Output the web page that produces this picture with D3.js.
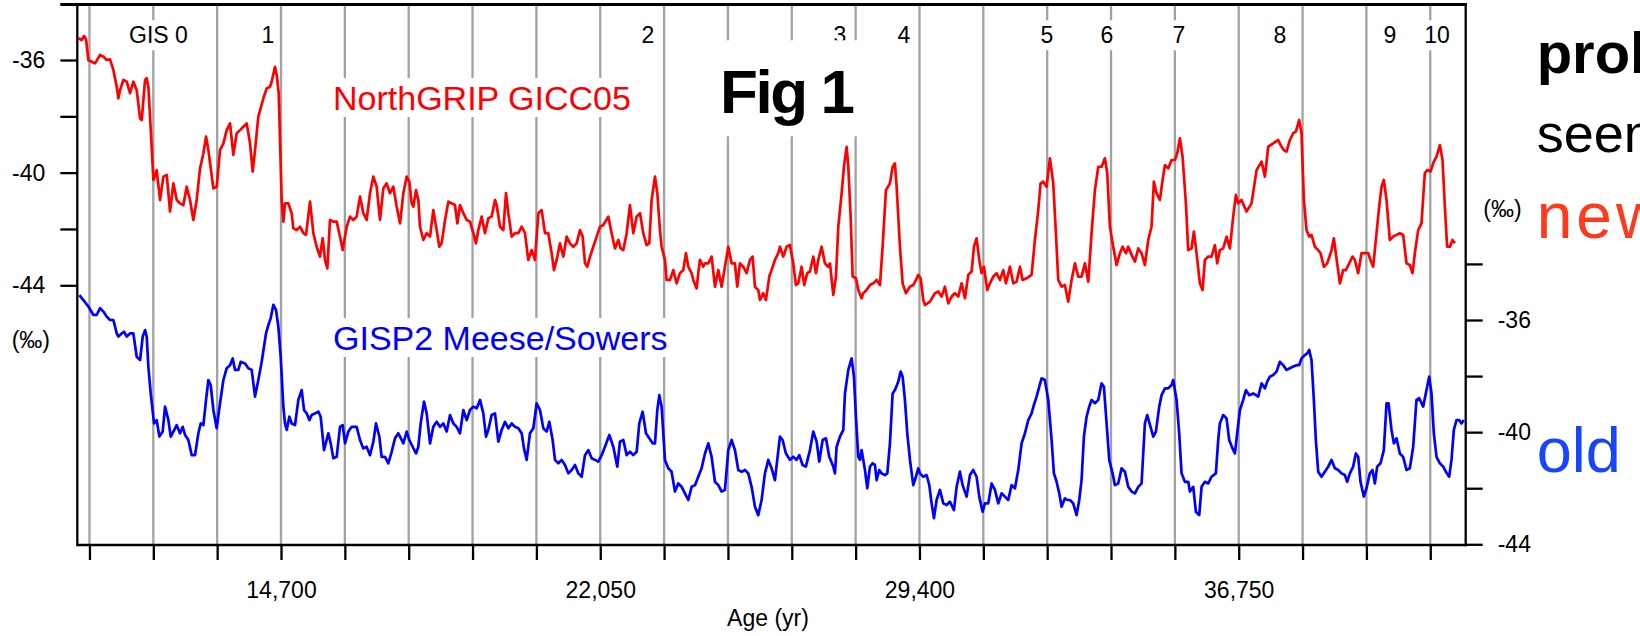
<!DOCTYPE html>
<html><head><meta charset="utf-8">
<script src="https://cdn.jsdelivr.net/npm/d3@7"></script>
<style>
body{margin:0;background:#fff;overflow:hidden}
svg{display:block}
text{font-family:"Liberation Sans",Arial,Helvetica,sans-serif}
</style>
</head><body>
<svg id="c" width="1640" height="636"></svg>
<script>
// ---------- DATA ----------
const xTickValues = [10290,11760,13230,14700,16170,17640,19110,20580,22050,23520,24990,26460,27930,29400,30870,32340,33810,35280,36750,38220,39690,41160];
const xTickLabels = [14700,22050,29400,36750];
const leftTickValues = [-36,-38,-40,-42,-44];
const leftTickLabels = [-36,-40,-44];
const rightTickValues = [-34,-36,-38,-40,-42,-44];
const rightTickLabels = [-36,-40,-44];
const gisNames = ["GIS 0","1","2","3","4","5","6","7","8","9","10"];
const gisAges  = [11879,14400,23149,27570,29043,32335,33716,35374,37700,40232,41314];

// NorthGRIP GICC05 d18O (age yr, permil)
const northgrip = [
[10035,-35.23],[10112,-35.29],[10166,-35.15],[10212,-35.27],[10265,-36.0],[10342,-36.06],[10419,-36.12],[10534,-35.82],[10611,-35.88],[10687,-36.0],[10764,-35.98],[10841,-36.36],[10918,-36.95],[10956,-37.36],[10994,-37.07],[11071,-36.71],[11148,-36.77],[11224,-37.18],[11301,-36.77],[11378,-37.07],[11455,-38.07],[11493,-38.13],[11570,-36.71],[11608,-36.65],[11646,-36.95],[11685,-38.01],[11762,-40.26],[11838,-39.91],[11915,-40.97],[11992,-40.14],[12069,-40.08],[12145,-41.38],[12222,-40.38],[12299,-40.97],[12375,-41.09],[12452,-41.15],[12529,-40.5],[12606,-40.97],[12682,-41.68],[12759,-40.97],[12836,-39.85],[12913,-39.31],[12974,-38.72],[13028,-39.2],[13143,-40.56],[13219,-40.5],[13296,-39.2],[13373,-38.96],[13450,-38.49],[13526,-38.25],[13603,-39.37],[13680,-38.6],[13757,-38.49],[13833,-38.37],[13910,-38.25],[13987,-38.96],[14048,-39.96],[14102,-39.2],[14178,-38.01],[14294,-37.36],[14370,-37.01],[14447,-36.95],[14485,-36.77],[14562,-36.24],[14601,-36.53],[14647,-37.18],[14716,-40.97],[14754,-41.74],[14792,-41.09],[14869,-41.09],[14946,-41.44],[14984,-41.98],[15061,-42.04],[15138,-41.92],[15214,-42.15],[15276,-42.21],[15368,-41.03],[15445,-42.15],[15521,-42.63],[15598,-42.98],[15659,-42.33],[15713,-43.1],[15767,-43.4],[15828,-41.68],[15905,-41.74],[15982,-41.74],[16058,-42.27],[16120,-42.75],[16212,-41.92],[16289,-41.56],[16365,-41.68],[16442,-41.56],[16519,-40.85],[16596,-41.44],[16672,-41.68],[16749,-40.73],[16826,-40.14],[16902,-40.5],[16979,-41.68],[17056,-40.56],[17133,-40.38],[17209,-40.73],[17286,-40.5],[17363,-41.21],
[17440,-41.80],[17517,-40.73],[17593,-40.14],[17655,-40.32],[17709,-41.09],[17747,-41.21],[17808,-40.62],[17862,-40.97],[17900,-41.92],[17977,-42.39],[18054,-42.15],[18131,-42.27],[18207,-41.33],[18284,-42.04],[18345,-42.63],[18399,-42.51],[18476,-41.68],[18553,-41.03],[18629,-41.09],[18706,-41.15],[18760,-41.80],[18821,-41.15],[18898,-41.44],[18975,-41.68],[19051,-41.74],[19128,-42.15],[19189,-42.51],[19243,-42.04],[19320,-41.56],[19397,-42.15],[19473,-41.62],[19550,-41.56],[19627,-40.97],[19665,-41.15],[19742,-41.92],[19819,-42.04],[19880,-40.73],[19934,-41.44],[20011,-42.27],[20087,-42.15],[20164,-42.15],[20241,-41.92],[20317,-42.15],[20394,-43.10],[20471,-42.75],[20548,-43.10],[20624,-41.44],[20701,-41.33],[20778,-42.15],[20854,-42.15],[20931,-42.86],[20985,-43.46],[21046,-43.10],[21123,-42.51],[21200,-42.98],[21277,-42.27],[21353,-42.51],[21430,-42.63],[21507,-42.51],[21583,-42.04],[21645,-42.27],[21699,-43.22],[21752,-43.34],[21814,-42.98],[21890,-42.63],[21967,-42.27],[22044,-41.92],[22121,-41.86],[22236,-41.56],[22312,-42.15],[22389,-42.69],[22466,-42.39],[22520,-42.69],[22581,-42.75],[22658,-42.15],[22734,-41.15],[22811,-42.15],[22888,-41.56],[22965,-41.44],[23041,-42.15],[23118,-42.57],[23179,-42.51],[23233,-40.97],[23310,-40.14],[23364,-40.73],[23425,-42.04],[23463,-42.63],[23540,-43.10],[23578,-43.81],[23655,-43.81],[23732,-43.46],[23809,-43.93],[23885,-43.57],[23962,-43.46],[24023,-42.86],[24077,-43.34],[24154,-43.57],[24192,-43.81],[24269,-44.11],[24307,-43.57],[24346,-43.10],[24422,-43.34],[24461,-43.22],[24538,-43.22],[24614,-42.98],[24691,-44.05],[24768,-43.46],[24844,-44.05],[24921,-43.34],[24998,-42.63],[25075,-43.22],[25151,-43.22],[25205,-44.05],[25266,-43.22],[25343,-43.34],[25420,-43.57],[25497,-43.10],[25558,-42.98],[25612,-44.05],[25688,-44.17],[25727,-44.52],[25803,-44.28],[25865,-44.52],[25942,-43.69],[25995,-43.46],[26072,-43.10],[26149,-42.86],[26187,-42.63],[26264,-42.98],[26341,-42.63],[26417,-42.57],[26494,-43.22],[26555,-43.99],[26609,-43.93],[26686,-43.34],[26747,-43.99],[26816,-43.57],[26878,-43.51],[26955,-42.98],[27016,-43.57],[27070,-43.10],[27147,-42.63],[27223,-43.22],[27300,-43.34],
[27339,-43.22],[27416,-44.34],[27477,-43.69],[27531,-41.92],[27608,-40.73],[27661,-39.79],[27723,-39.08],[27761,-39.79],[27815,-41.56],[27861,-43.69],[27938,-43.75],[27991,-44.17],[28068,-44.46],[28106,-44.28],[28183,-44.17],[28260,-43.99],[28337,-43.93],[28413,-43.81],[28490,-43.99],[28551,-42.63],[28628,-40.62],[28720,-40.38],[28782,-39.79],[28835,-39.67],[28874,-40.50],[28950,-42.63],[29012,-43.93],[29088,-44.28],[29181,-44.05],[29257,-43.99],[29319,-43.81],[29372,-43.63],[29426,-43.75],[29487,-44.52],[29526,-44.70],[29641,-44.58],[29756,-44.28],[29833,-44.22],[29909,-44.40],[29986,-44.05],[30063,-44.64],[30140,-44.40],[30216,-44.28],[30293,-44.40],[30370,-43.93],[30447,-44.46],[30523,-43.63],[30600,-43.51],[30654,-42.63],[30715,-42.33],[30776,-43.10],[30830,-43.57],[30884,-43.34],[30961,-44.17],[31022,-43.93],[31099,-43.69],[31176,-43.57],[31252,-43.81],[31329,-43.46],[31390,-43.93],[31482,-43.34],[31559,-43.93],[31636,-43.87],[31713,-43.34],[31774,-43.81],[31866,-43.75],[31981,-43.63],[32058,-42.39],[32135,-41.33],[32188,-40.38],[32250,-40.32],[32326,-40.50],[32403,-39.49],[32480,-40.38],[32541,-42.15],[32595,-43.81],[32672,-44.05],[32748,-43.99],[32825,-44.58],[32902,-43.81],[32979,-43.22],[33055,-43.69],[33132,-43.69],[33209,-43.22],[33286,-43.87],[33362,-42.15],[33439,-40.62],[33516,-39.79],[33592,-39.79],[33669,-39.49],[33723,-40.02],[33784,-41.92],[33861,-42.63],[33938,-43.28],[34015,-42.86],[34076,-42.63],[34153,-42.86],[34206,-42.63],[34283,-42.92],[34360,-43.16],[34437,-42.69],[34513,-42.86],[34590,-43.28],[34667,-42.39],[34743,-41.92],[34797,-40.32],[34858,-40.73],[34935,-40.97],[34997,-40.26],[35051,-39.73],[35127,-39.85],[35204,-39.55],[35281,-39.55],[35334,-39.31],[35396,-38.78],[35457,-39.43],[35534,-41.09],[35587,-42.75],[35664,-42.69],[35718,-42.09],[35779,-42.86],[35856,-43.93],[35917,-44.17],[35971,-43.10],[36048,-42.98],[36124,-42.98],[36201,-42.57],[36255,-43.22],[36316,-42.75],[36393,-42.69],[36470,-42.27],[36547,-42.69],[36623,-41.56],[36685,-40.79],[36739,-41.09],[36815,-40.97],[36930,-41.38],[37045,-41.09],[37161,-39.91],[37276,-39.61],[37353,-40.14],[37429,-39.08],[37544,-38.96],[37659,-38.84],
[37713,-39.02],[37789,-39.20],[37851,-39.25],[37928,-38.84],[38004,-38.60],[38066,-38.54],[38142,-38.13],[38196,-38.60],[38250,-40.97],[38311,-42.04],[38373,-42.27],[38426,-42.21],[38503,-42.63],[38580,-42.75],[38634,-42.86],[38710,-43.34],[38787,-43.22],[38887,-42.75],[38940,-42.33],[39017,-43.22],[39079,-43.93],[39155,-43.46],[39217,-43.46],[39293,-43.22],[39370,-42.98],[39424,-43.10],[39500,-43.57],[39577,-42.86],[39654,-42.86],[39731,-42.86],[39784,-43.10],[39846,-43.34],[39923,-42.15],[39984,-41.21],[40038,-40.50],[40091,-40.26],[40153,-40.97],[40229,-42.39],[40306,-42.27],[40383,-42.21],[40460,-42.15],[40536,-42.21],[40613,-43.22],[40690,-43.28],[40751,-43.57],[40805,-42.86],[40882,-42.04],[40958,-41.80],[41035,-40.02],[41089,-39.91],[41166,-39.96],[41242,-39.61],[41304,-39.43],[41381,-39.02],[41442,-39.55],[41496,-41.21],[41549,-42.63],[41611,-42.63],[41672,-42.39],[41726,-42.51]
];

// GISP2 Meese/Sowers d18O (age yr, permil)
const gisp2 = [
[10058,-35.11],[10150,-35.29],[10265,-35.52],[10380,-35.82],[10457,-35.82],[10534,-35.58],[10611,-35.70],[10687,-35.88],[10764,-36.00],[10841,-36.00],[10918,-36.48],[10956,-36.59],[11033,-36.48],[11086,-36.42],[11148,-36.59],[11224,-36.48],[11301,-36.48],[11378,-37.31],[11455,-37.43],[11516,-36.59],[11570,-36.36],[11608,-36.59],[11646,-37.66],[11700,-38.62],[11777,-39.69],[11838,-39.57],[11900,-40.16],[11976,-39.98],[12030,-39.09],[12107,-39.57],[12161,-40.16],[12222,-39.98],[12299,-39.75],[12375,-40.04],[12437,-39.81],[12491,-40.10],[12567,-40.28],[12644,-40.82],[12721,-40.82],[12797,-40.04],[12851,-39.69],[12913,-39.75],[12974,-38.85],[13028,-38.14],[13081,-38.32],[13143,-39.21],[13219,-39.86],[13296,-38.97],[13373,-38.14],[13450,-37.72],[13526,-37.61],[13588,-37.37],[13641,-37.78],[13718,-37.78],[13772,-37.49],[13872,-37.55],[13948,-37.72],[14025,-37.78],[14102,-38.73],[14178,-38.14],[14255,-37.49],[14355,-36.48],[14409,-36.18],[14462,-35.94],[14524,-35.46],[14585,-35.64],[14639,-36.24],[14693,-37.31],[14754,-39.09],[14792,-39.69],[14831,-39.92],[14892,-39.45],[14946,-39.69],[15023,-39.75],[15099,-38.85],[15176,-38.50],[15230,-39.21],[15291,-39.33],[15353,-39.57],[15406,-39.39],[15483,-39.33],[15560,-39.27],[15613,-39.45],[15690,-40.64],[15790,-40.04],[15844,-40.40],[15905,-40.93],[15982,-40.88],[16058,-39.81],[16120,-39.75],[16174,-40.40],[16250,-39.98],[16327,-39.81],[16442,-39.81],[16519,-40.28],[16596,-40.58],[16672,-40.52],[16749,-40.82],[16826,-40.34],[16887,-39.69],[16964,-40.16],[17017,-40.88],[17094,-40.88],[17171,-41.11],[17248,-40.70],[17324,-40.22],[17401,-40.04],
[17440,-40.16],[17517,-40.40],[17593,-39.98],[17655,-40.28],[17731,-40.52],[17808,-40.76],[17862,-40.52],[17916,-39.69],[17992,-38.91],[18054,-39.33],[18131,-40.40],[18207,-39.81],[18284,-39.63],[18361,-39.81],[18437,-39.69],[18514,-39.98],[18591,-39.39],[18668,-39.69],[18744,-39.81],[18821,-40.04],[18898,-39.21],[18975,-39.57],[19051,-39.21],[19128,-39.09],[19205,-39.15],[19282,-38.85],[19358,-39.33],[19420,-40.16],[19473,-39.92],[19550,-39.39],[19627,-39.33],[19704,-40.34],[19780,-39.92],[19857,-39.63],[19934,-39.86],[20011,-39.69],[20087,-39.81],[20164,-39.86],[20241,-40.04],[20294,-40.58],[20356,-40.99],[20432,-40.04],[20509,-39.86],[20586,-38.97],[20663,-39.21],[20739,-39.86],[20816,-39.98],[20877,-39.63],[20954,-40.28],[21008,-40.99],[21085,-41.11],[21162,-40.99],[21238,-41.17],[21315,-41.47],[21392,-41.35],[21468,-41.17],[21545,-41.47],[21622,-41.59],[21699,-40.82],[21775,-40.64],[21852,-40.93],[21929,-40.99],[22005,-41.05],[22082,-40.82],[22159,-40.52],[22259,-40.10],[22351,-40.52],[22443,-41.23],[22504,-40.34],[22581,-40.28],[22658,-40.82],[22734,-40.70],[22811,-40.82],[22888,-40.70],[22949,-39.69],[23026,-39.27],[23103,-40.04],[23179,-40.22],[23256,-40.40],[23310,-40.40],[23364,-39.21],[23410,-38.68],[23463,-39.09],[23540,-40.99],[23617,-41.29],[23693,-41.41],[23770,-42.12],[23847,-41.83],[23924,-41.95],[24000,-42.18],[24077,-42.42],[24154,-41.95],[24231,-41.89],[24307,-41.59],[24384,-41.29],[24461,-40.76],[24538,-40.40],[24614,-40.88],[24691,-41.77],[24768,-41.89],[24844,-42.12],[24921,-42.06],[24998,-40.64],[25075,-40.28],[25151,-40.64],[25228,-41.35],[25305,-41.41],[25382,-41.35],[25458,-41.47],[25535,-41.95],[25612,-42.66],[25688,-42.96],[25765,-42.42],[25842,-41.47],[25919,-40.99],[25995,-41.29],[26072,-41.71],[26187,-40.16],[26249,-40.28],[26325,-40.76],[26417,-40.99],[26494,-40.88],[26571,-40.99],[26632,-40.82],[26709,-41.17],[26785,-41.23],[26878,-40.64],[26955,-39.98],[27032,-40.34],[27093,-41.05],[27170,-40.28],[27246,-40.22],[27323,-40.88],
[27339,-40.93],[27416,-41.23],[27454,-41.47],[27492,-40.52],[27569,-40.16],[27646,-39.92],[27684,-38.62],[27761,-37.78],[27838,-37.37],[27891,-38.02],[27937,-39.45],[27991,-40.88],[28030,-40.99],[28068,-40.64],[28106,-40.99],[28145,-41.35],[28198,-42.00],[28260,-41.23],[28321,-41.11],[28375,-41.17],[28413,-41.71],[28475,-41.35],[28528,-41.47],[28605,-41.53],[28659,-41.47],[28720,-40.40],[28782,-38.62],[28835,-38.50],[28912,-38.20],[28966,-37.84],[29012,-38.02],[29065,-38.85],[29119,-40.04],[29181,-40.99],[29257,-41.89],[29319,-41.59],[29372,-41.29],[29411,-41.47],[29487,-41.59],[29564,-41.53],[29626,-41.89],[29679,-42.54],[29733,-43.07],[29794,-42.42],[29871,-42.06],[29948,-42.54],[30025,-42.60],[30101,-42.48],[30193,-42.78],[30255,-41.95],[30331,-41.41],[30393,-41.89],[30485,-42.30],[30562,-41.53],[30638,-41.35],[30715,-41.59],[30776,-42.30],[30853,-42.84],[30907,-42.54],[30984,-42.54],[31061,-41.83],[31137,-42.06],[31214,-42.54],[31291,-42.18],[31367,-42.30],[31444,-42.42],[31521,-41.89],[31598,-42.00],[31674,-41.35],[31751,-40.40],[31828,-40.04],[31904,-39.57],[31981,-39.33],[32035,-39.03],[32096,-38.73],[32158,-38.38],[32211,-38.08],[32288,-38.14],[32365,-38.85],[32442,-40.28],[32495,-41.47],[32557,-41.77],[32618,-42.18],[32672,-42.66],[32748,-42.36],[32802,-42.42],[32864,-42.42],[32940,-42.54],[33017,-42.96],[33078,-42.42],[33132,-41.71],[33186,-40.16],[33247,-39.45],[33309,-39.09],[33362,-38.85],[33439,-38.97],[33516,-38.85],[33592,-38.26],[33646,-38.38],[33708,-39.69],[33769,-40.99],[33846,-41.47],[33899,-41.89],[33976,-41.83],[34053,-41.29],[34130,-41.41],[34206,-41.95],[34283,-42.12],[34360,-42.18],[34437,-41.95],[34513,-41.83],[34590,-39.69],[34644,-39.39],[34720,-39.81],[34782,-40.16],[34843,-39.98],[34920,-39.09],[34974,-38.68],[35051,-38.44],[35127,-38.44],[35204,-38.32],[35242,-38.14],[35319,-38.85],[35380,-40.04],[35434,-41.47],[35511,-41.77],[35588,-41.77],[35626,-42.12],[35703,-41.95],[35764,-42.84],[35841,-42.96],[35895,-41.95],[35971,-41.77],[36048,-41.83],[36124,-41.59],[36224,-41.47],[36278,-40.28],[36316,-39.69],[36393,-39.39],[36470,-39.51],[36531,-40.28],[36608,-40.58],[36662,-40.76],[36715,-40.04],[36777,-39.21],[36854,-38.85],[36915,-38.50],[36992,-38.68],[37084,-38.62],[37199,-38.73],[37276,-38.26],[37353,-38.44],[37406,-38.20],[37468,-38.02],
[37544,-37.96],[37621,-37.84],[37697,-37.49],[37774,-37.61],[37851,-37.78],[37928,-37.72],[38004,-37.66],[38081,-37.61],[38142,-37.61],[38196,-37.37],[38273,-37.25],[38327,-37.19],[38373,-37.07],[38426,-37.43],[38480,-38.85],[38526,-40.28],[38580,-41.41],[38656,-41.59],[38733,-41.41],[38810,-41.23],[38887,-40.99],[38964,-41.29],[39040,-41.35],[39117,-41.47],[39194,-41.53],[39247,-41.77],[39309,-41.47],[39385,-41.23],[39447,-40.76],[39501,-40.88],[39554,-41.77],[39631,-42.30],[39692,-42.00],[39769,-41.47],[39830,-41.35],[39884,-41.83],[39938,-41.23],[40015,-41.11],[40091,-40.64],[40153,-38.97],[40199,-38.97],[40268,-39.92],[40322,-40.40],[40383,-40.22],[40460,-40.76],[40536,-40.88],[40613,-41.35],[40690,-41.29],[40767,-40.52],[40843,-38.85],[40905,-38.79],[40997,-39.09],[41074,-38.50],[41135,-38.02],[41189,-38.62],[41242,-40.04],[41304,-40.88],[41381,-41.11],[41457,-41.23],[41519,-41.41],[41595,-41.59],[41649,-40.99],[41703,-39.92],[41764,-39.57],[41825,-39.57],[41879,-39.69],[41933,-39.57]
];

// ---------- LAYOUT ----------
const W = 1640, H = 636;
const L = 77.3, R = 1465.7, T = 4.5, B = 545;
const FONT = 23;
const svg = d3.select("#c");
svg.append("rect").attr("width", W).attr("height", H).attr("fill", "#fff");

const x = d3.scaleLinear().domain([10010, 41976]).range([L, R]);
const yRed = d3.scaleLinear().domain([-36, -44]).range([60, 285.3]);
const yBlue = d3.scaleLinear().domain([-36, -44]).range([320, 544.3]);

// grid lines
svg.append("g").selectAll("line").data(xTickValues).join("line")
  .attr("x1", d => x(d)).attr("x2", d => x(d))
  .attr("y1", T).attr("y2", B)
  .attr("stroke", "#a2a2a2").attr("stroke-width", 2.3);

// helper: text with white background box
function boxedText(g, txt, tx, ty, opts, pad) {
  const grp = g.append("g");
  const r = grp.append("rect").attr("fill", "#fff");
  const t = grp.append("text").attr("x", tx).attr("y", ty).text(txt);
  Object.entries(opts).forEach(([k, v]) => t.attr(k, v));
  const bb = t.node().getBBox();
  r.attr("x", bb.x - pad[3]).attr("y", bb.y - pad[0])
   .attr("width", bb.width + pad[1] + pad[3]).attr("height", bb.height + pad[0] + pad[2]);
  return grp;
}

// GIS labels
const gl = svg.append("g");
gisNames.forEach((n, i) => {
  boxedText(gl, n, x(gisAges[i]), 43.3,
    {"text-anchor": "middle", "font-size": FONT, "fill": "#000"}, [2, 3, 2, 3]);
});

// Fig 1
boxedText(svg, "Fig 1", 720, 113.3,
  {"font-size": 62, "font-weight": "bold", "letter-spacing": "-2.4px", "fill": "#000"}, [17, 14, 10, 18]);

// series labels
boxedText(svg, "NorthGRIP GICC05", 333, 110, {"font-size": 34, "fill": "#ff0000"}, [1, 3, 0, 4]);
boxedText(svg, "GISP2 Meese/Sowers", 333, 350, {"font-size": 34, "fill": "#0000ff"}, [1, 3, 0, 4]);

// curves
const lineRed = d3.line().x(d => x(d[0])).y(d => yRed(d[1]));
const lineBlue = d3.line().x(d => x(d[0])).y(d => yBlue(d[1]));
svg.append("path").datum(northgrip).attr("d", lineRed)
  .attr("fill", "none").attr("stroke", "#ff0000").attr("stroke-width", 2.7)
  .attr("stroke-linejoin", "round");
svg.append("path").datum(gisp2).attr("d", lineBlue)
  .attr("fill", "none").attr("stroke", "#0000ff").attr("stroke-width", 2.7)
  .attr("stroke-linejoin", "round");

// axes
function styleAxis(g) {
  g.select(".domain").remove();
  g.selectAll(".tick line").attr("stroke", "#000").attr("stroke-width", 2.3);
  g.selectAll(".tick text").attr("font-size", FONT).attr("fill", "#000")
    .attr("font-family", "'Liberation Sans',Arial,Helvetica,sans-serif");
}
const axL = svg.append("g").attr("transform", `translate(${L},0)`)
  .call(d3.axisLeft(yRed).tickValues(leftTickValues).tickSize(17).tickPadding(15)
    .tickFormat(d => leftTickLabels.includes(d) ? String(d) : ""));
styleAxis(axL);
const axR = svg.append("g").attr("transform", `translate(${R},0)`)
  .call(d3.axisRight(yBlue).tickValues(rightTickValues).tickSize(17).tickPadding(15)
    .tickFormat(d => rightTickLabels.includes(d) ? String(d) : ""));
styleAxis(axR);
const fmt = d3.format(",");
const axB = svg.append("g").attr("transform", `translate(0,${B})`)
  .call(d3.axisBottom(x).tickValues(xTickValues).tickSize(15).tickPadding(21.7)
    .tickFormat(d => xTickLabels.includes(d) ? fmt(d) : ""));
styleAxis(axB);

// frame lines
const fr = svg.append("g").attr("stroke", "#000");
fr.append("line").attr("x1", L).attr("x2", L).attr("y1", T - 1).attr("y2", B + 1.2).attr("stroke-width", 2.3);
fr.append("line").attr("x1", R).attr("x2", R).attr("y1", T - 1).attr("y2", B + 1.2).attr("stroke-width", 2.3);
fr.append("line").attr("x1", L).attr("x2", R + 1.2).attr("y1", B).attr("y2", B).attr("stroke-width", 2.3);
fr.append("line").attr("x1", L - 17).attr("x2", R + 1.2).attr("y1", T).attr("y2", T).attr("stroke-width", 3);

// axis titles / units
svg.append("text").attr("x", 768).attr("y", 626).attr("text-anchor", "middle")
  .attr("font-size", FONT).text("Age (yr)");
svg.append("text").attr("x", 11.7).attr("y", 348).attr("font-size", FONT).text("(‰)");
svg.append("text").attr("x", 1483.3).attr("y", 217).attr("font-size", FONT).text("(‰)");

// slide side text (cropped at the right edge, as in the source slide)
svg.append("text").attr("x", 1536.7).attr("y", 73.3).attr("font-size", 58).attr("font-weight", "bold").attr("fill", "#000").text("problem");
svg.append("text").attr("x", 1536.7).attr("y", 151.7).attr("font-size", 54).attr("fill", "#000").text("seems");
svg.append("text").attr("x", 1536.7).attr("y", 238.3).attr("font-size", 64).attr("letter-spacing", "4px").attr("fill", "#ff3a1c").text("new");
svg.append("text").attr("x", 1536.7).attr("y", 471.7).attr("font-size", 63).attr("fill", "#1745ff").text("old");
</script>
</body></html>
